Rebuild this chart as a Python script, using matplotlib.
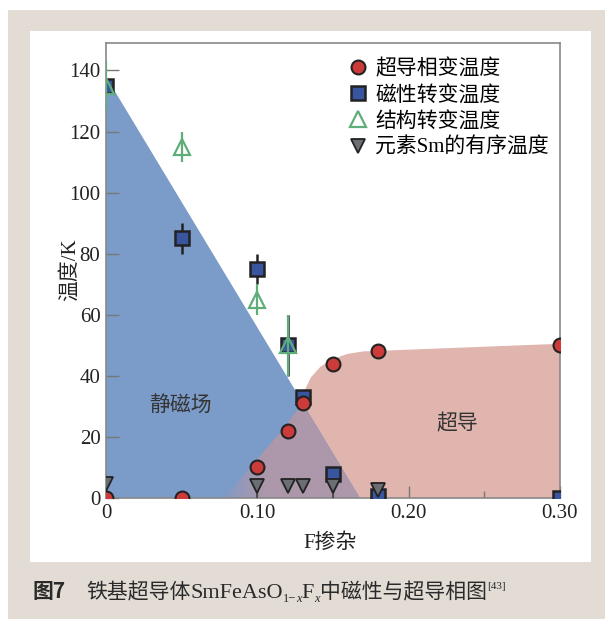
import numpy as np
import matplotlib
matplotlib.use("Agg")
import matplotlib.pyplot as plt
from matplotlib.patches import Polygon, Rectangle

plt.rcParams['font.family'] = ['Liberation Serif', 'Noto Sans CJK SC', 'DejaVu Sans']

# F doping and transition temperatures (K)
x_sc = [0.0, 0.05, 0.10, 0.12, 0.13, 0.15, 0.18, 0.30]
t_sc = [0, 0, 10, 22, 31, 44, 48, 50]

x_mag = [0.0, 0.05, 0.10, 0.12, 0.13, 0.15, 0.18, 0.30]
t_mag = [135, 85, 75, 50, 33, 8, 0.5, 0]
e_mag = [0, 5, 5, 10, 0, 0, 0, 0]

x_str = [0.0, 0.05, 0.10, 0.12]
t_str = [135, 115, 65, 50]
e_str = [8, 5, 5, 10]

x_sm = [0.0, 0.10, 0.12, 0.13, 0.15, 0.18]
t_sm = [4.5, 4, 4, 4, 4, 2.5]
e_sm_low = [0, 4, 0, 0, 4, 0]

labels = ['超导相变温度', '磁性转变温度', '结构转变温度', '元素Sm的有序温度']

# phase region outlines
mag_region = [(0, 0), (0, 138), (0.168, 0)]
sc_region = [(0.168, 0), (0.13, 31.2), (0.1314, 35.4), (0.1354, 39.5), (0.1417, 43.0),
             (0.150, 45.5), (0.1596, 47.2), (0.17, 48.0), (0.30, 50.5), (0.30, 0)]
overlap_region = [(0.078, 0), (0.116, 22), (0.13, 31.2), (0.168, 0)]

c_blue = '#7b9bc8'
c_pink = '#e0b5ae'
c_mix = '#ad97aa'

fig = plt.figure(figsize=(6.05, 6.19), dpi=100)
fig.patches.append(Rectangle((8 / 605, 0), 1, 1 - 10 / 619, transform=fig.transFigure,
                             facecolor='#e2dcd5', edgecolor='none', zorder=-10))
fig.patches.append(Rectangle((30 / 605, 1 - 562 / 619), (591 - 30) / 605, (562 - 31) / 619,
                             transform=fig.transFigure, facecolor='white',
                             edgecolor='none', zorder=-9))

ax = fig.add_axes([106 / 605, 1 - 498 / 619, (560 - 106) / 605, (498 - 43) / 619])
ax.set_xlim(0, 0.30)
ax.set_ylim(0, 149)
ax.patch.set_alpha(0)

ax.add_patch(Polygon(mag_region, closed=True, facecolor=c_blue, edgecolor='none', zorder=0))
ax.add_patch(Polygon(sc_region, closed=True, facecolor=c_pink, edgecolor='none', zorder=0))
ov = Polygon(overlap_region, closed=True, facecolor='none', edgecolor='none', zorder=0)
ax.add_patch(ov)
# overlap shading fades out towards low doping
ramp = np.clip((np.linspace(0, 0.30, 600) - 0.074) / 0.03, 0, 1)
img = np.zeros((2, 600, 4))
img[..., :3] = matplotlib.colors.to_rgb(c_mix)
img[..., 3] = ramp
im = ax.imshow(img, extent=(0, 0.30, 0, 149), aspect='auto', origin='lower',
               interpolation='bilinear', zorder=0.5)
im.set_clip_path(ov)

ax.text(0.049, 30, '静磁场', fontsize=15, ha='center', va='center', color='#333333')
ax.text(0.232, 24, '超导', fontsize=15, ha='center', va='center', color='#333333')

ms = 10
ax.errorbar(x_mag, t_mag, yerr=e_mag, fmt='none', ecolor='#222222', elinewidth=1.8, zorder=2)
h_mag, = ax.plot(x_mag, t_mag, 's', ms=ms, mfc='#3a55a0', mec='#222222', mew=1.8, zorder=3)
ax.errorbar(x_str, t_str, yerr=e_str, fmt='none', ecolor='#5fae7a', elinewidth=1.6, zorder=4)
h_str, = ax.plot(x_str, t_str, '^', ms=ms + 1, mfc='none', mec='#5fae7a', mew=1.6, zorder=4)
h_sc, = ax.plot(x_sc, t_sc, 'o', ms=ms, mfc='#cc3a3a', mec='#222222', mew=1.5, zorder=5)
ax.errorbar(x_sm, t_sm, yerr=[e_sm_low, [0] * len(x_sm)], fmt='none', ecolor='#444444',
            elinewidth=1.2, zorder=5)
h_sm, = ax.plot(x_sm, t_sm, 'v', ms=ms, mfc='#6b6e72', mec='#222222', mew=1.3, zorder=6)

ax.legend([h_sc, h_mag, h_str, h_sm], labels, loc='upper right',
          bbox_to_anchor=(1.008, 0.997), frameon=False, fontsize=15, handlelength=0.8,
          handletextpad=0.45, labelspacing=0.3, borderaxespad=0.3)

ax.set_xticks([0, 0.10, 0.20, 0.30])
ax.set_xticklabels(['0', '0.10', '0.20', '0.30'])
ax.set_xticks([0.05, 0.15, 0.25], minor=True)
ax.set_yticks(range(0, 141, 20))
ax.tick_params(which='both', direction='in', color='#777777', labelcolor='#222222',
               labelsize=15, width=1)
ax.tick_params(which='major', length=9, pad=4)
ax.tick_params(which='minor', length=5)
for s in ax.spines.values():
    s.set_color('#888888')
    s.set_linewidth(1.2)

fig.text(70 / 605, 1 - 270 / 619, '温度/K', rotation=90, fontsize=15, ha='center',
         va='center', color='#222222')
fig.text(330 / 605, 1 - 543 / 619, 'F掺杂', fontsize=15, ha='center', va='center',
         color='#222222')

# caption, laid out piece by piece
fig.canvas.draw()
r = fig.canvas.get_renderer()
pieces = [
    ('图7', dict(fontsize=15, fontweight='bold', family=['Noto Sans CJK SC']), 0, 0),
    ('铁基超导体', dict(fontsize=15), 20, 0),
    ('SmFeAsO', dict(fontsize=16), 0, 0),
    ('1−', dict(fontsize=9), 0, -4),
    ('x', dict(fontsize=9, style='italic'), 0, -4),
    ('F', dict(fontsize=16), 0, 0),
    ('x', dict(fontsize=9, style='italic'), 0, -4),
    ('中磁性与超导相图', dict(fontsize=15), 0, 0),
    ('[43]', dict(fontsize=8), 1, 9),
]
xp = 33
base = 1 - 598 / 619
for txt, kw, gap, dy in pieces:
    xp += gap
    t = fig.text(xp / 605, base + dy / 619, txt, ha='left', va='baseline',
                 color='#2a2a2a', **kw)
    xp += t.get_window_extent(renderer=r).width

fig.savefig('out.png', dpi=100)
